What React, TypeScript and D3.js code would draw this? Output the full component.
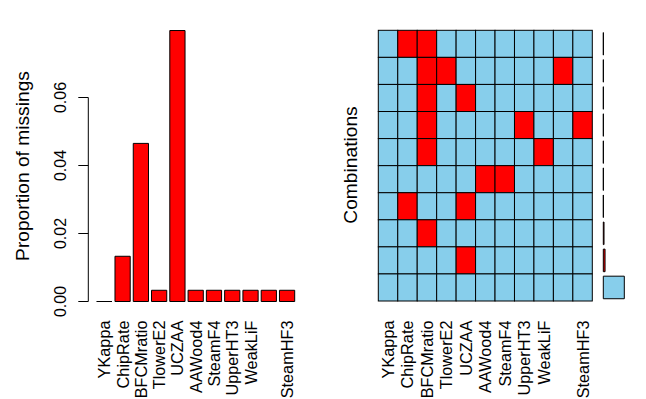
import React from "react"
import * as d3 from "d3"

const W = 646
const H = 399

// variables in column order (the 10th name is not printed in the original plot)
const variables = ["YKappa", "ChipRate", "BFCMratio", "TlowerE2", "UCZAA", "AAWood4", "SteamF4", "UpperHT3", "WeakLiF", "BlackFlow2", "SteamHF3"]
const varLabels = ["YKappa", "ChipRate", "BFCMratio", "TlowerE2", "UCZAA", "AAWood4", "SteamF4", "UpperHT3", "WeakLiF", "", "SteamHF3"]

// proportion of missing values per variable
const propMissing = [0, 0.0133, 0.0465, 0.0033, 0.0797, 0.0033, 0.0033, 0.0033, 0.0033, 0.0033, 0.0033]
const yTicks = [0, 0.02, 0.04, 0.06]

// missingness patterns, top row first (1 = missing)
const combPatterns = [
  "01100000000",
  "00110000010",
  "00101000000",
  "00100001001",
  "00100000100",
  "00000110000",
  "01001000000",
  "00100000000",
  "00001000000",
  "00000000000",
]
const combCounts = [1, 1, 1, 1, 1, 1, 1, 9, 22, 263]

const FONT = "'Liberation Sans', Arial, Helvetica, sans-serif"
const SKY = "#87CEEB"
const RED = "#FF0000"

function rectPath(x, y, w, h) {
  const p = d3.path()
  p.moveTo(x, y)
  p.lineTo(x + w, y)
  p.lineTo(x + w, y + h)
  p.lineTo(x, y + h)
  p.closePath()
  return p.toString()
}

export default function App() {
  // left: proportion of missings
  const xBar = d3.scaleBand().domain(variables).range([96.7, 294.7]).paddingInner(1 / 6).paddingOuter(0)
  const yBar = d3.scaleLinear().domain([0, 0.06]).range([301.5, 97.5])
  const axisX = 88.3
  const labelTop = 320.5
  const labelSize = 16.3

  // right: combinations grid
  const rows = combPatterns.map((_, i) => "r" + i)
  const xGrid = d3.scaleBand().domain(variables).range([378.3, 592.3])
  const yGrid = d3.scaleBand().domain(rows).range([30.3, 301])
  const yComb = d3.scaleBand().domain(rows).range([30.3, 301]).paddingInner(1 / 6).paddingOuter(1 / 12)
  const xComb = d3.scaleLinear().domain([0, d3.max(combCounts)]).range([603.3, 624.3])

  return (
    <svg width={W} height={H} style={{ position: "absolute", left: 0, top: 0, background: "#fff" }} fontFamily={FONT}>
      <rect x={0} y={0} width={W} height={H} fill="#fff" />

      {/* left bars */}
      {variables.map((v, i) => (
        <path
          key={v}
          d={rectPath(xBar(v), yBar(propMissing[i]), xBar.bandwidth(), yBar(0) - yBar(propMissing[i]))}
          fill={RED}
          stroke="#000"
          strokeWidth={1}
        />
      ))}

      {/* left y axis */}
      <line x1={axisX} x2={axisX} y1={yBar(0)} y2={yBar(0.06)} stroke="#000" strokeWidth={1} />
      {yTicks.map((t) => (
        <g key={t}>
          <line x1={axisX - 10} x2={axisX} y1={yBar(t)} y2={yBar(t)} stroke="#000" strokeWidth={1} />
          <text
            transform={`translate(60,${yBar(t)}) rotate(-90)`}
            textAnchor="middle"
            dominantBaseline="central"
            fontSize={16}
          >
            {d3.format(".2f")(t)}
          </text>
        </g>
      ))}
      <text transform="translate(22,166) rotate(-90)" textAnchor="middle" dominantBaseline="central" fontSize={19.2}>
        Proportion of missings
      </text>

      {/* left x labels */}
      {variables.map((v, i) => (
        <text
          key={v}
          transform={`translate(${xBar(v) + xBar.bandwidth() / 2},${labelTop}) rotate(-90)`}
          textAnchor="end"
          dominantBaseline="central"
          fontSize={labelSize}
        >
          {varLabels[i]}
        </text>
      ))}

      {/* combinations grid */}
      {combPatterns.map((pat, r) =>
        variables.map((v, c) => (
          <rect
            key={r + "-" + v}
            x={xGrid(v)}
            y={yGrid(rows[r])}
            width={xGrid.bandwidth()}
            height={yGrid.bandwidth()}
            fill={pat[c] === "1" ? RED : SKY}
            stroke="#000"
            strokeWidth={1}
          />
        ))
      )}
      <text transform="translate(350,165) rotate(-90)" textAnchor="middle" dominantBaseline="central" fontSize={19.2}>
        Combinations
      </text>
      {variables.map((v, i) => (
        <text
          key={"g" + v}
          transform={`translate(${xGrid(v) + xGrid.bandwidth() / 2},${labelTop}) rotate(-90)`}
          textAnchor="end"
          dominantBaseline="central"
          fontSize={labelSize}
        >
          {varLabels[i]}
        </text>
      ))}

      {/* combination frequencies */}
      {combCounts.map((n, r) => (
        <path
          key={"c" + r}
          d={rectPath(xComb(0), yComb(rows[r]), xComb(n) - xComb(0), yComb.bandwidth())}
          fill={combPatterns[r].includes("1") ? RED : SKY}
          stroke="#000"
          strokeWidth={1}
        />
      ))}
    </svg>
  )
}
